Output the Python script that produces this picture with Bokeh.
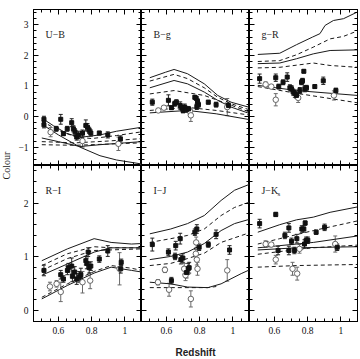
import math
from bokeh.plotting import figure
from bokeh.models import (ColumnDataSource, Range1d, LinearAxis, FixedTicker, Whisker,
                          TeeHead, Label, NumeralTickFormatter, BasicTickFormatter)
from bokeh.layouts import gridplot, row
from bokeh.embed import file_html
from bokeh.resources import INLINE

# ------------------------------------------------------------------ data
# ---- U-B
UB_fz = [0.513, 0.513, 0.587, 0.614, 0.630, 0.653, 0.680, 0.690, 0.700, 0.710, 0.720, 0.745, 0.765, 0.775, 0.785, 0.795, 0.846, 0.897, 0.973]
UB_fc = [-0.09, -0.27, -0.40, -0.09, -0.56, -0.40, -0.20, -0.40, -0.50, -0.67, -0.60, -0.54, -0.29, -0.35, -0.45, -0.54, -0.54, -0.60, -0.73]
UB_fe = [0.10, 0.10, 0.08, 0.16, 0.06, 0.08, 0.13, 0.10, 0.10, 0.10, 0.12, 0.10, 0.18, 0.12, 0.10, 0.10, 0.06, 0.10, 0.10]
UB_oz = [0.553, 0.745, 0.961]
UB_oc = [-0.51, -0.80, -0.89]
UB_oe = [0.15, 0.20, 0.22]
UB_models = [
    ([0.50, 0.57, 0.65, 0.73, 0.85, 0.95, 1.10], [-0.05, -0.30, -0.55, -0.68, -0.60, -0.48, -0.35]),
    ([0.50, 0.60, 0.70, 0.80, 0.95, 1.10], [-0.15, -0.45, -0.66, -0.72, -0.62, -0.50]),
    ([0.50, 0.60, 0.73, 0.85, 1.00, 1.10], [-0.70, -0.82, -0.98, -0.92, -0.86, -0.82]),
    ([0.50, 0.70, 0.90, 1.10], [-0.82, -0.86, -0.80, -0.72]),
    ([0.50, 0.70, 0.90, 1.10], [-0.92, -0.94, -0.90, -0.86]),
    ([0.50, 0.60, 0.73, 0.85, 0.95, 1.10], [-0.25, -0.60, -1.00, -1.28, -1.42, -1.55]),
]
UB_dash = ["solid", "dashed", "solid", "dashed", "dashed", "solid"]

# ---- B-g
Bg_fz = [0.515, 0.612, 0.630, 0.650, 0.660, 0.683, 0.693, 0.700, 0.710, 0.720, 0.733, 0.771, 0.779, 0.787, 0.793, 0.783, 0.852, 0.899, 0.974]
Bg_fc = [0.47, 0.53, 0.29, 0.42, 0.47, 0.36, 0.29, 0.20, 0.31, 0.22, 0.25, 0.63, 0.60, 0.50, 0.39, 0.33, 0.47, 0.39, 0.36]
Bg_fe = [0.10, 0.18, 0.06, 0.08, 0.08, 0.12, 0.08, 0.08, 0.10, 0.08, 0.08, 0.06, 0.06, 0.08, 0.08, 0.10, 0.06, 0.08, 0.08]
Bg_oz = [0.551, 0.585, 0.741, 0.747, 0.966]
Bg_oc = [0.20, 0.29, 0.17, 0.04, 0.31]
Bg_oe = [0.05, 0.06, 0.10, 0.20, 0.28]
Bg_models = [
    ([0.50, 0.595, 0.646, 0.727, 0.828, 0.909, 0.989, 1.10], [1.27, 1.45, 1.54, 1.40, 1.07, 0.69, 0.47, 0.30]),
    ([0.50, 0.646, 0.727, 0.828, 0.909, 0.989, 1.10], [1.16, 1.38, 1.24, 0.94, 0.63, 0.42, 0.22]),
    ([0.50, 0.646, 0.727, 0.828, 0.909, 0.989, 1.10], [0.94, 1.18, 1.07, 0.80, 0.53, 0.31, 0.10]),
    ([0.50, 0.646, 0.828, 0.950, 1.10], [0.74, 0.85, 0.69, 0.45, 0.15]),
    ([0.50, 0.727, 0.900, 1.10], [0.12, 0.20, 0.09, -0.10]),
    ([0.50, 0.727, 0.900, 1.10], [0.20, 0.30, 0.20, 0.05]),
]
Bg_dash = ["solid", "dashed", "solid", "dashed", "solid", "dashed"]

# ---- g-R
gR_fz = [0.511, 0.608, 0.626, 0.652, 0.677, 0.693, 0.703, 0.713, 0.723, 0.733, 0.753, 0.763, 0.769, 0.777, 0.783, 0.793, 0.843, 0.894, 0.970]
gR_fc = [1.24, 1.27, 0.98, 1.12, 1.29, 0.94, 0.91, 0.80, 0.75, 0.69, 0.85, 1.12, 1.17, 1.48, 0.91, 0.94, 0.98, 1.17, 0.85]
gR_fe = [0.15, 0.12, 0.08, 0.08, 0.14, 0.10, 0.10, 0.10, 0.12, 0.10, 0.10, 0.08, 0.08, 0.05, 0.10, 0.08, 0.06, 0.12, 0.08]
gR_oz = [0.547, 0.581, 0.608, 0.743, 0.958]
gR_oc = [1.05, 0.98, 0.55, 0.61, 0.69]
gR_oe = [0.08, 0.06, 0.20, 0.15, 0.15]
gR_models = [
    ([0.50, 0.632, 0.733, 0.830, 0.874, 0.905, 0.955, 1.016, 1.10], [2.03, 2.07, 2.35, 2.60, 2.71, 2.98, 3.14, 3.20, 3.42]),
    ([0.50, 0.632, 0.733, 0.834, 0.935, 1.015, 1.10], [1.80, 1.83, 2.02, 2.27, 2.54, 2.62, 2.80]),
    ([0.50, 0.632, 0.733, 0.834, 0.935, 1.10], [1.73, 1.75, 1.89, 2.05, 2.16, 2.18]),
    ([0.50, 0.632, 0.834, 0.935, 1.10], [1.59, 1.61, 1.75, 1.67, 1.61]),
    ([0.50, 0.733, 1.10], [1.02, 0.85, 0.69]),
    ([0.50, 0.733, 1.10], [0.98, 0.76, 0.45]),
]
gR_dash = ["solid", "dashed", "solid", "dashed", "solid", "dashed"]

# ---- R-I
RI_fz = [0.513, 0.614, 0.630, 0.654, 0.660, 0.680, 0.684, 0.698, 0.710, 0.725, 0.735, 0.765, 0.771, 0.779, 0.785, 0.795, 0.846, 0.897, 0.978, 0.975]
RI_fc = [0.75, 0.67, 0.59, 0.75, 0.80, 0.83, 0.64, 0.72, 0.59, 0.63, 0.67, 0.93, 0.88, 1.09, 0.80, 0.83, 0.96, 1.11, 0.90, 0.78]
RI_fe = [0.10, 0.08, 0.06, 0.08, 0.08, 0.15, 0.10, 0.10, 0.10, 0.10, 0.12, 0.08, 0.10, 0.08, 0.10, 0.08, 0.06, 0.10, 0.06, 0.08]
RI_oz = [0.549, 0.589, 0.614, 0.745, 0.791, 0.968]
RI_oc = [0.45, 0.50, 0.35, 0.53, 0.56, 0.78]
RI_oe = [0.08, 0.06, 0.18, 0.20, 0.15, 0.30]
RI_models = [
    ([0.50, 0.654, 0.815, 0.917, 1.04, 1.10], [0.93, 1.15, 1.34, 1.27, 1.24, 1.25]),
    ([0.50, 0.654, 0.815, 0.917, 1.10], [0.84, 1.06, 1.19, 1.17, 1.17]),
    ([0.50, 0.654, 0.815, 1.10], [0.75, 0.97, 1.12, 1.15]),
    ([0.50, 0.654, 0.815, 0.917, 1.10], [0.66, 0.87, 1.09, 1.17, 1.17]),
    ([0.50, 0.654, 0.815, 0.917, 1.04, 1.10], [0.22, 0.47, 0.70, 0.81, 0.75, 0.72]),
    ([0.50, 0.654, 0.815, 0.917, 1.04, 1.10], [0.25, 0.50, 0.73, 0.84, 0.79, 0.75]),
]
RI_dash = ["solid", "dashed", "dashed", "solid", "solid", "dashed"]

# ---- I-J
IJ_fz = [0.515, 0.612, 0.630, 0.652, 0.656, 0.683, 0.687, 0.699, 0.721, 0.731, 0.737, 0.771, 0.783, 0.797, 0.852, 0.899, 0.980]
IJ_fc = [1.23, 1.09, 0.56, 1.01, 1.21, 1.34, 0.95, 0.98, 0.71, 0.78, 0.80, 1.46, 1.52, 1.18, 1.23, 1.42, 1.13]
IJ_fe = [0.12, 0.06, 0.06, 0.06, 0.08, 0.10, 0.08, 0.08, 0.10, 0.10, 0.10, 0.06, 0.08, 0.06, 0.05, 0.08, 0.08]
IJ_oz = [0.549, 0.591, 0.616, 0.707, 0.715, 0.747, 0.779, 0.777, 0.783, 0.787, 0.966]
IJ_oc = [0.53, 0.76, 0.39, 0.78, 0.66, 0.22, 1.27, 1.06, 0.95, 0.78, 0.75]
IJ_oe = [0.05, 0.05, 0.12, 0.10, 0.10, 0.15, 0.10, 0.08, 0.10, 0.12, 0.20]
IJ_models = [
    ([0.50, 0.626, 0.727, 0.828, 0.929, 1.01, 1.10], [1.43, 1.52, 1.62, 1.77, 2.05, 2.24, 2.35]),
    ([0.50, 0.626, 0.727, 0.828, 0.929, 1.01, 1.10], [1.27, 1.34, 1.40, 1.52, 1.77, 1.92, 2.02]),
    ([0.50, 0.626, 0.727, 0.828, 0.929, 1.01, 1.10], [0.95, 1.01, 1.09, 1.25, 1.49, 1.62, 1.70]),
    ([0.50, 0.626, 0.727, 0.828, 0.929, 1.10], [0.84, 0.88, 0.97, 1.07, 1.27, 1.45]),
    ([0.50, 0.626, 0.727, 0.850, 0.929, 1.05, 1.10], [0.53, 0.50, 0.44, 0.43, 0.50, 0.69, 0.76]),
    ([0.50, 0.626, 0.850, 0.900], [0.43, 0.43, 0.43, 0.45]),
]
IJ_dash = ["solid", "dashed", "solid", "dashed", "solid", "dashed"]

# ---- J-Ks
JK_fz = [0.511, 0.608, 0.622, 0.663, 0.687, 0.703, 0.687, 0.720, 0.735, 0.765, 0.777, 0.785, 0.781, 0.791, 0.801, 0.851, 0.902, 0.978]
JK_fc = [1.62, 1.79, 1.12, 1.40, 1.54, 1.29, 1.12, 1.12, 1.34, 1.52, 1.52, 1.63, 1.24, 1.31, 1.31, 1.46, 1.55, 1.18]
JK_fe = [0.08, 0.04, 0.08, 0.06, 0.08, 0.06, 0.08, 0.06, 0.08, 0.06, 0.06, 0.04, 0.08, 0.06, 0.06, 0.04, 0.06, 0.06]
JK_oz = [0.547, 0.581, 0.608, 0.709, 0.737, 0.751, 0.966]
JK_oc = [1.24, 1.23, 0.95, 0.78, 0.69, 1.15, 1.24]
JK_oe = [0.06, 0.04, 0.08, 0.12, 0.12, 0.08, 0.15]
JK_models = [
    ([0.50, 0.632, 0.733, 0.834, 0.935, 1.10], [1.46, 1.60, 1.69, 1.74, 1.83, 1.93]),
    ([0.50, 0.632, 0.834, 1.10], [1.24, 1.34, 1.49, 1.67]),
    ([0.50, 0.632, 0.834, 1.10], [1.17, 1.21, 1.27, 1.39]),
    ([0.50, 0.733, 1.10], [1.13, 1.17, 1.19]),
    ([0.50, 0.632, 0.834, 1.10], [1.05, 1.10, 1.17, 1.22]),
    ([0.50, 0.733, 1.10], [0.81, 0.84, 0.86]),
]
JK_dash = ["solid", "dashed", "solid", "solid", "dashed", "dashed"]

PANEL_NAMES = ["U\u2212B", "B\u2212g", "g\u2212R", "R\u2212I", "I\u2212J", "J\u2212K"]
X_RANGE = (0.45, 1.10)
Y_RANGES = [(-1.6, 3.5), (-0.2, 2.7)]
X_TICKS = [0.6, 0.8, 1.0]
Y_TICKS = [[-1, 0, 1, 2, 3], [0, 1, 2]]

PANEL_DATA = [
    (UB_fz, UB_fc, UB_fe, UB_oz, UB_oc, UB_oe, UB_models, UB_dash),
    (Bg_fz, Bg_fc, Bg_fe, Bg_oz, Bg_oc, Bg_oe, Bg_models, Bg_dash),
    (gR_fz, gR_fc, gR_fe, gR_oz, gR_oc, gR_oe, gR_models, gR_dash),
    (RI_fz, RI_fc, RI_fe, RI_oz, RI_oc, RI_oe, RI_models, RI_dash),
    (IJ_fz, IJ_fc, IJ_fe, IJ_oz, IJ_oc, IJ_oe, IJ_models, IJ_dash),
    (JK_fz, JK_fc, JK_fe, JK_oz, JK_oc, JK_oe, JK_models, JK_dash),
]

# ------------------------------------------------------------------ styling
SERIF = "Liberation Serif"
SANS = "Liberation Sans"
FRAME_W, FRAME_H = 108, 156
LABEL_COL_W = 12

x_minor = [round(0.45 + 0.05 * i, 2) for i in range(14)]
y_minor = [round(-2.0 + 0.2 * i, 1) for i in range(30)]


def add_axis(p, side, ticks, minor, show_labels, fmt, axis_label=None):
    ax = LinearAxis(ticker=FixedTicker(ticks=ticks, minor_ticks=minor), formatter=fmt)
    ax.axis_line_color = "black"
    ax.axis_line_width = 1
    ax.major_tick_in = 5
    ax.major_tick_out = 0
    ax.minor_tick_in = 3
    ax.minor_tick_out = 0
    ax.major_tick_line_color = "black"
    ax.minor_tick_line_color = "black"
    if show_labels:
        ax.major_label_text_font = SERIF
        ax.major_label_text_font_size = "9.5px"
        ax.major_label_text_color = "#111111"
        ax.major_label_standoff = 5
    else:
        # tick marks only: labels are neither drawn nor given any room
        ax.major_label_text_font_size = "0px"
        ax.major_label_text_color = None
        ax.major_label_text_alpha = 0
        ax.major_label_standoff = 0
    if axis_label:
        ax.axis_label = axis_label
        ax.axis_label_text_font = SANS
        ax.axis_label_text_font_style = "bold"
        ax.axis_label_text_font_size = "10px"
        ax.axis_label_text_color = "#222222"
        ax.axis_label_standoff = 10
    p.add_layout(ax, side)


figs = []
for idx, (fz, fc, fe, oz, oc, oe, models, dashes) in enumerate(PANEL_DATA):
    r, c = divmod(idx, 3)
    ymin, ymax = Y_RANGES[r]
    p = figure(frame_width=FRAME_W, frame_height=FRAME_H,
               x_range=Range1d(*X_RANGE), y_range=Range1d(ymin, ymax),
               output_backend="svg", toolbar_location=None,
               x_axis_location=None, y_axis_location=None,
               min_border_left=(33 - LABEL_COL_W) if c == 0 else 0,
               min_border_right=3 if c == 2 else 0,
               min_border_top=9 if r == 0 else 0,
               min_border_bottom=38 if r == 1 else 0)
    p.grid.visible = False
    p.outline_line_color = "black"
    p.background_fill_color = "white"
    p.border_fill_color = "white"

    yt = Y_TICKS[r]
    add_axis(p, "left", yt, y_minor, c == 0, BasicTickFormatter())
    add_axis(p, "right", yt, y_minor, False, BasicTickFormatter())
    add_axis(p, "above", X_TICKS, x_minor, False, NumeralTickFormatter(format="0.[0]"))
    add_axis(p, "below", X_TICKS, x_minor, r == 1, NumeralTickFormatter(format="0.[0]"),
             axis_label="Redshift" if (r == 1 and c == 1) else None)

    # model curves
    for (mz, mc), d in zip(models, dashes):
        p.line(mz, mc, line_color="#1a1a1a", line_width=1,
               line_dash="4 3" if d == "dashed" else "solid")

    # open circles with error bars
    osrc = ColumnDataSource(dict(z=oz, c=oc,
                                 lo=[a - b for a, b in zip(oc, oe)],
                                 hi=[a + b for a, b in zip(oc, oe)]))
    p.add_layout(Whisker(source=osrc, base="z", lower="lo", upper="hi", dimension="height",
                         line_color="#6a6a6a", line_width=1,
                         lower_head=TeeHead(size=4, line_color="#6a6a6a", line_width=1),
                         upper_head=TeeHead(size=4, line_color="#6a6a6a", line_width=1)))
    p.scatter("z", "c", source=osrc, marker="circle", size=5.5,
              fill_color="white", line_color="#666666", line_width=1)

    # filled squares with error bars
    fsrc = ColumnDataSource(dict(z=fz, c=fc,
                                 lo=[a - b for a, b in zip(fc, fe)],
                                 hi=[a + b for a, b in zip(fc, fe)]))
    p.add_layout(Whisker(source=fsrc, base="z", lower="lo", upper="hi", dimension="height",
                         line_color="#222222", line_width=1,
                         lower_head=TeeHead(size=4, line_color="#222222", line_width=1),
                         upper_head=TeeHead(size=4, line_color="#222222", line_width=1)))
    p.scatter("z", "c", source=fsrc, marker="square", size=4,
              fill_color="#111111", line_color="#111111")

    # panel label
    ly = ymax - 25.0 * (ymax - ymin) / FRAME_H
    p.add_layout(Label(x=0.522, y=ly, text=PANEL_NAMES[idx], text_font=SERIF,
                       text_font_size="10px", text_baseline="middle", text_align="left",
                       text_color="#222222"))
    if idx == 5:
        p.add_layout(Label(x=0.522, y=ly, x_offset=16, y_offset=-3, text="s",
                           text_font=SERIF, text_font_size="7px", text_baseline="middle",
                           text_align="left", text_color="#222222"))
    figs.append(p)

grid = gridplot([figs[0:3], figs[3:6]], toolbar_location=None)

# y-axis title column
lab = figure(width=LABEL_COL_W, height=359, x_range=Range1d(0, LABEL_COL_W),
             y_range=Range1d(0, 359), output_backend="svg", toolbar_location=None,
             x_axis_location=None, y_axis_location=None,
             min_border_left=0, min_border_right=0, min_border_top=0, min_border_bottom=0)
lab.grid.visible = False
lab.outline_line_color = None
lab.background_fill_color = "white"
lab.border_fill_color = "white"
lab.add_layout(Label(x=6, y=359 - 165, text="Colour", angle=math.pi / 2,
                     text_font=SERIF, text_font_size="10px", text_align="center",
                     text_baseline="middle", text_color="#222222"))

layout = row(lab, grid)
open("out.html", "w").write(file_html(layout, INLINE))
